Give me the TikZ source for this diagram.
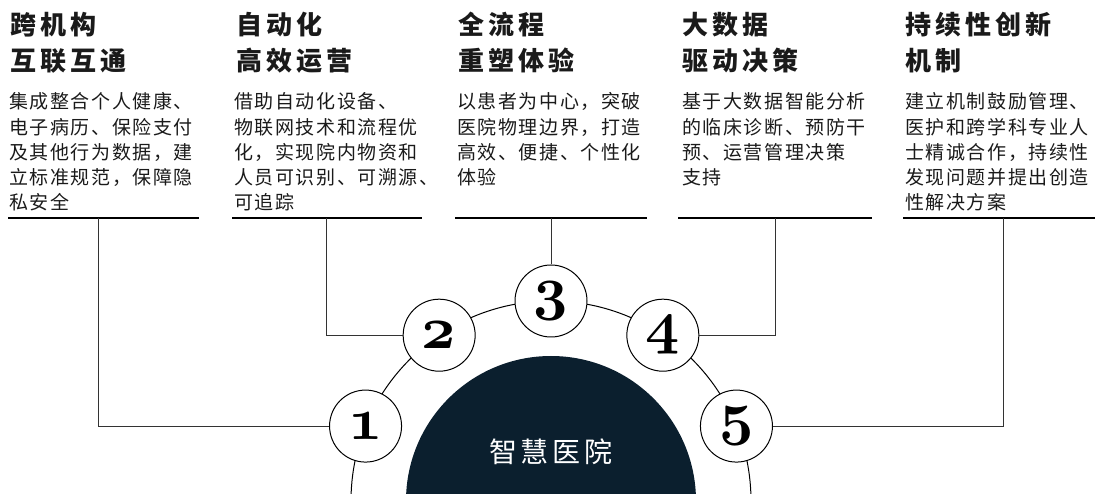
\documentclass[tikz,border=0pt]{standalone}
\usepackage{fontspec}
\usepackage{graphicx}
\setmainfont{Noto Sans CJK SC}
\usetikzlibrary{calc}
\definecolor{navy}{HTML}{0B1F2E}
\definecolor{ink}{HTML}{1A1A1A}
\def\lsgap{2pt}
\def\lsloop#1{\ifx#1\relax\else#1\hspace{\lsgap}\expandafter\lsloop\fi}
\newcommand\ls[1]{\edef\lstmp{#1}\expandafter\lsloop\lstmp\relax\unskip}
\newcommand\num[1]{\scalebox{2.4}{\fontsize{24.88}{25}\usefont{OML}{cmm}{b}{it}#1}}
\tikzset{
  x=1pt, y=-1pt,
  head/.style={anchor=base west, inner sep=0pt, text=ink, font=\fontsize{26}{30}\selectfont\bfseries\def\lsgap{4pt}},
  body/.style={anchor=base west, inner sep=0pt, text=ink, font=\fontsize{19}{22}\selectfont\def\lsgap{1.6pt}},
  rule/.style={line width=1.3pt, black},
  conn/.style={line width=1pt, draw=black!80},
  numc/.style={circle, draw=black, fill=white, line width=1pt, minimum size=72pt, inner sep=0pt},
}
\begin{document}
\begin{tikzpicture}
\useasboundingbox (0,0) rectangle (1101,494);
\begin{scope}
\clip (0,0) rectangle (1101,494);
\coordinate (O) at (551,501);
\draw[line width=1pt] (O) circle[radius=200];
\fill[navy] (O) circle[radius=145];
\end{scope}
\node[text=white, inner sep=0pt, font=\fontsize{28}{30}\selectfont\def\lsgap{4pt}] (center) at (551,452) {\ls{智慧医院}};

% headings
\node[head] (h1a) at (10,35) {\ls{跨机构}};
\node[head] (h1b) at (10,71) {\ls{互联互通}};
\node[head] (h2a) at (236,35) {\ls{自动化}};
\node[head] (h2b) at (236,71) {\ls{高效运营}};
\node[head] (h3a) at (458,35) {\ls{全流程}};
\node[head] (h3b) at (458,71) {\ls{重塑体验}};
\node[head] (h4a) at (682,35) {\ls{大数据}};
\node[head] (h4b) at (682,71) {\ls{驱动决策}};
\node[head] (h5a) at (905,35) {\ls{持续性创新}};
\node[head] (h5b) at (905,71) {\ls{机制}};

% bodies
\foreach \t [count=\i] in {集成整合个人健康、,电子病历、保险支付,及其他行为数据，建,立标准规范，保障隐,私安全}
  \node[body] (b1-\i) at (9,{109+(\i-1)*25.2}) {\ls{\t}};
\foreach \t [count=\i] in {借助自动化设备、,物联网技术和流程优,化，实现院内物资和,人员可识别、可溯源、,可追踪}
  \node[body] (b2-\i) at (234,{109+(\i-1)*25.2}) {\ls{\t}};
\foreach \t [count=\i] in {以患者为中心，突破,医院物理边界，打造,高效、便捷、个性化,体验}
  \node[body] (b3-\i) at (457,{109+(\i-1)*25.2}) {\ls{\t}};
\foreach \t [count=\i] in {基于大数据智能分析,的临床诊断、预防干,预、运营管理决策,支持}
  \node[body] (b4-\i) at (682,{109+(\i-1)*25.2}) {\ls{\t}};
\foreach \t [count=\i] in {建立机制鼓励管理、,医护和跨学科专业人,士精诚合作，持续性,发现问题并提出创造,性解决方案}
  \node[body] (b5-\i) at (905,{109+(\i-1)*25.2}) {\ls{\t}};

% underlines
\coordinate (u1l) at (8,218);   \coordinate (u1r) at (199,218);
\coordinate (u2l) at (232,218); \coordinate (u2r) at (422,218);
\coordinate (u3l) at (455,218); \coordinate (u3r) at (647,218);
\coordinate (u4l) at (678,218); \coordinate (u4r) at (872,218);
\coordinate (u5l) at (903,218); \coordinate (u5r) at (1095,218);
\foreach \k in {1,...,5} \draw[rule] (u\k l) -- (u\k r);

% number circles
\node[numc] (c1) at ($(O)+(-158:200)$) {\num{1}};
\node[numc] (c2) at ($(O)+(-124:200)$) {\num{2}};
\node[numc] (c3) at ($(O)+(-90:200)$) {\num{3}};
\node[numc] (c4) at ($(O)+(-56:200)$) {\num{4}};
\node[numc] (c5) at ($(O)+(-22:200)$) {\num{5}};

% connectors
\coordinate (k1) at (98,218);
\coordinate (k2) at (326,218);
\coordinate (k3) at (551,218);
\coordinate (k4) at (775,218);
\coordinate (k5) at (1003,218);
\draw[conn] (c1.west) -| (k1);
\draw[conn] (c2.west) -| (k2);
\draw[conn] (c3.north) -- (k3);
\draw[conn] (c4.east) -| (k4);
\draw[conn] (c5.east) -| (k5);
\end{tikzpicture}
\end{document}
